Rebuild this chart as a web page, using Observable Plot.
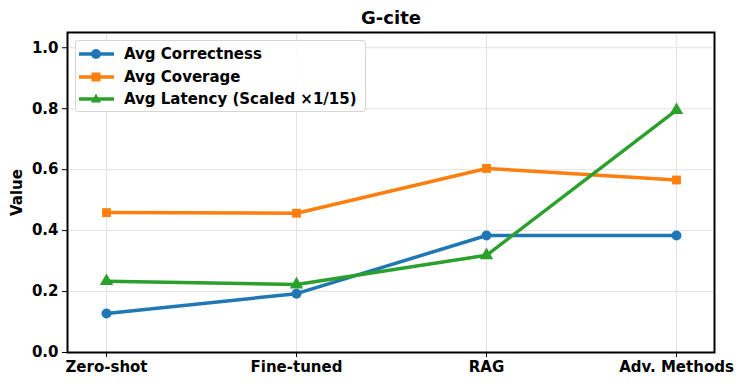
<!DOCTYPE html>
<html>
<head>
<meta charset="utf-8">
<script src="https://cdn.jsdelivr.net/npm/d3@7"></script>
<script src="https://cdn.jsdelivr.net/npm/@observablehq/plot@0.6"></script>
<style>
  body { margin: 0; background: #fff; font-family: "DejaVu Sans", sans-serif; }
  #wrap { position: relative; width: 743px; height: 387px; }
  #legend { position: absolute; left: 75px; top: 40px; width: 289px; height: 70px;
    border: 1px solid #d5d5d5; border-radius: 3px; background: rgba(255,255,255,0.85);
    font-weight: bold; font-size: 15px; color: #000; }
  .row { position: absolute; left: 3px; height: 20px; display: flex; align-items: center; }
  .row svg { display: block; }
  .row span { margin-left: 10px; white-space: nowrap; }
</style>
</head>
<body>
<div id="wrap"></div>
<script>
const categories = ["Zero-shot", "Fine-tuned", "RAG", "Adv. Methods"];
const correctness = [0.128, 0.193, 0.384, 0.384];
const coverage = [0.459, 0.457, 0.604, 0.566];
const latency = [0.234, 0.223, 0.319, 0.795];
const seriesNames = ["Avg Correctness", "Avg Coverage", "Avg Latency (Scaled \u00d71/15)"];
const colors = ["#1f77b4", "#ff7f0e", "#2ca02c"];
const symbols = ["circle", "square", "triangle"];
const yTicks = [0, 0.2, 0.4, 0.6, 0.8, 1.0];

const seriesValues = [correctness, coverage, latency];
const data = [];
seriesValues.forEach((vals, s) => vals.forEach((v, i) => data.push({cat: categories[i], value: v, series: seriesNames[s]})));

const font = {fontWeight: "bold", fontSize: 15};
const chart = Plot.plot({
  width: 743, height: 387,
  marginLeft: 67, marginRight: 29, marginTop: 32, marginBottom: 35,
  style: {fontFamily: "DejaVu Sans, sans-serif", fontSize: "15px", color: "#000", background: "#fff"},
  x: {type: "point", domain: categories, padding: 0.2},
  y: {domain: [0, 1.05]},
  color: {domain: seriesNames, range: colors},
  symbol: {domain: seriesNames, range: symbols},
  marks: [
    Plot.gridY(yTicks, {stroke: "#e3e3e3", strokeOpacity: 1}),
    Plot.gridX(categories, {stroke: "#e3e3e3", strokeOpacity: 1}),
    Plot.line(data, {x: "cat", y: "value", z: "series", stroke: "series", strokeWidth: 3.5}),
    Plot.dot(data, {x: "cat", y: "value", fill: "series", symbol: "series", r: 5}),
    Plot.axisY({ticks: yTicks, tickFormat: d => d.toFixed(1), tickSize: 5, tickPadding: 4, label: null, ...font}),
    Plot.axisX({tickSize: 5, tickPadding: 4, label: null, ...font}),
    Plot.frame({stroke: "#000", strokeWidth: 2}),
    Plot.text(["G-cite"], {frameAnchor: "top", dy: -14, lineAnchor: "middle", fontWeight: "bold", fontSize: 18}),
    Plot.text(["Value"], {frameAnchor: "left", dx: -50, rotate: -90, textAnchor: "middle", lineAnchor: "middle", fontWeight: "bold", fontSize: 15})
  ]
});
const wrap = document.getElementById("wrap");
wrap.appendChild(chart);

const legend = document.createElement("div");
legend.id = "legend";
const markerSvg = (sym, color) => {
  if (sym === "circle") return `<circle cx="17" cy="10" r="5" fill="${color}"/>`;
  if (sym === "square") return `<rect x="12.5" y="5.5" width="9" height="9" fill="${color}"/>`;
  return `<path d="M17,4.5 L22,13.5 L12,13.5 Z" fill="${color}"/>`;
};
seriesNames.forEach((name, i) => {
  const row = document.createElement("div");
  row.className = "row";
  row.style.top = (3 + i * 22.5) + "px";
  row.innerHTML = `<svg width="35" height="20"><line x1="0" x2="35" y1="10" y2="10" stroke="${colors[i]}" stroke-width="3.5"/>${markerSvg(symbols[i], colors[i])}</svg><span>${name}</span>`;
  legend.appendChild(row);
});
wrap.appendChild(legend);
</script>
</body>
</html>
